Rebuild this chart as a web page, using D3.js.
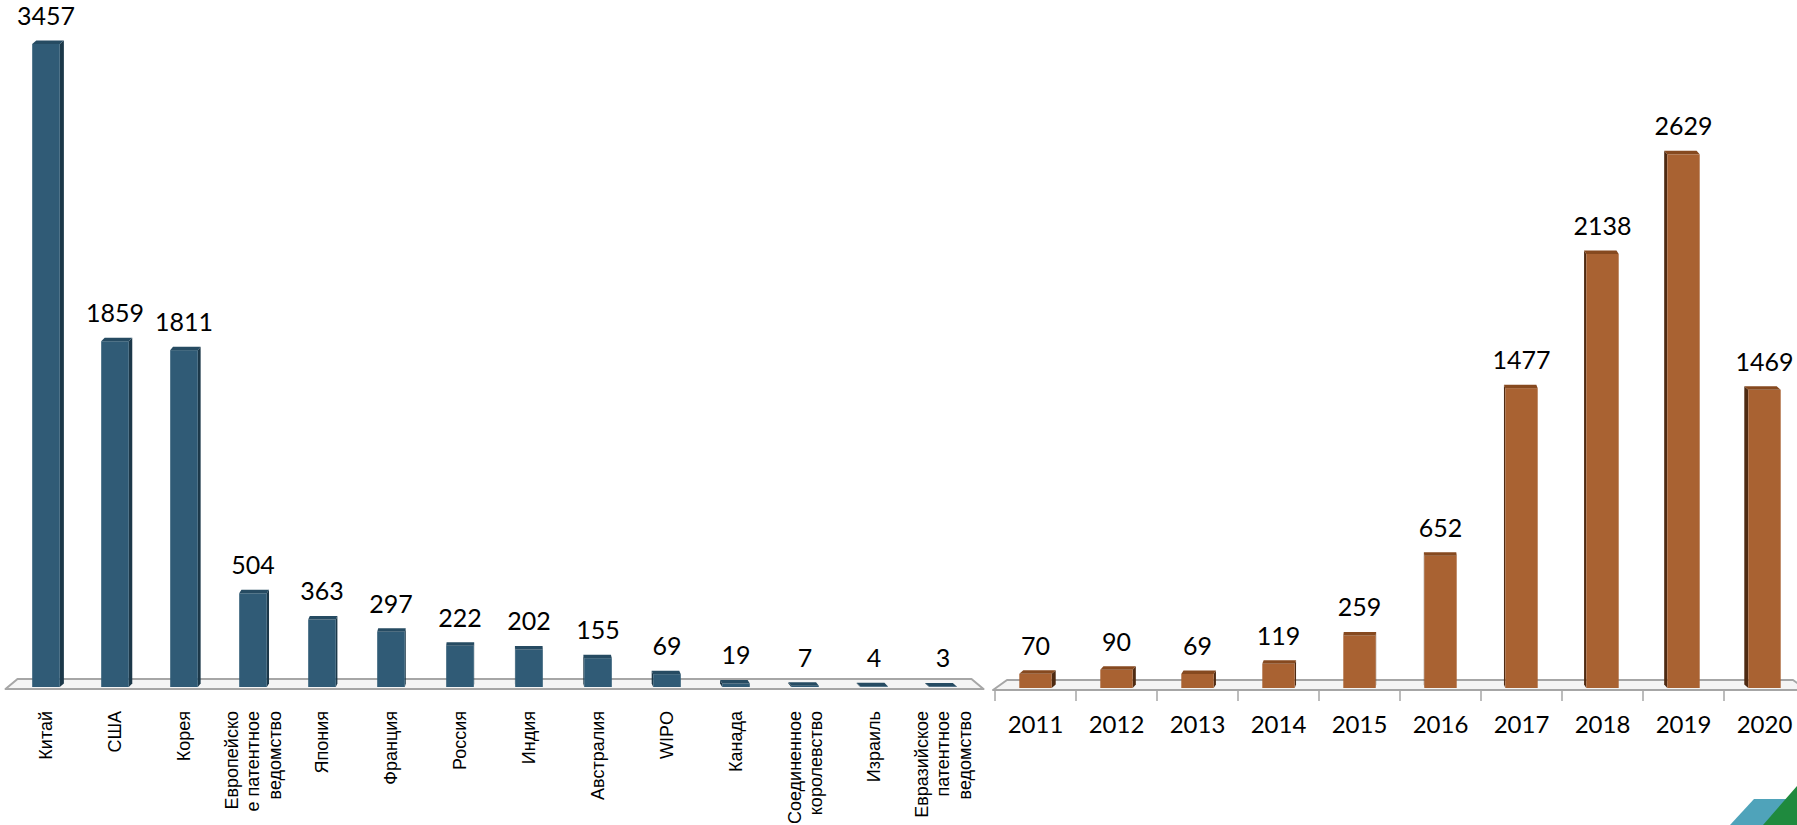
<!DOCTYPE html>
<html>
<head>
<meta charset="utf-8">
<script src="https://cdn.jsdelivr.net/npm/d3@7"></script>
<style>
  html, body { margin: 0; padding: 0; background: #ffffff; }
  svg { display: block; }
</style>
</head>
<body>
<svg id="chart" width="1797" height="825"></svg>
<script>
// ---- Data ----
const countries = [
  "Китай", "США", "Корея", "Европейско\nе патентное\nведомство", "Япония",
  "Франция", "Россия", "Индия", "Австралия", "WIPO", "Канада",
  "Соединенное\nкоролевство", "Израиль", "Евразийское\nпатентное\nведомство"
];
const countryValues = [3457, 1859, 1811, 504, 363, 297, 222, 202, 155, 69, 19, 7, 4, 3];

const years = ["2011", "2012", "2013", "2014", "2015", "2016", "2017", "2018", "2019", "2020"];
const yearValues = [70, 90, 69, 119, 259, 652, 1477, 2138, 2629, 1469];

// ---- Setup ----
const svg = d3.select("#chart");

function drawPanel(opts) {
  const { cats, vals, x, y, base, front, side, top, vp, k, floorBackInset, floorFrontOut, ticks, labelFn } = opts;
  const g = svg.append("g");
  const r = x.range();

  // floor (perspective platform)
  const backY = base - 8, frontY = base + 2;
  const floor = [
    [r[0] - floorFrontOut, frontY],
    [r[0] + floorBackInset, backY],
    [r[1] - floorBackInset, backY],
    [r[1] + floorFrontOut, frontY]
  ];
  g.append("polygon")
    .attr("points", floor.map(p => p.join(",")).join(" "))
    .attr("fill", "#f5f5f5")
    .attr("stroke", "#a6a6a6")
    .attr("stroke-width", 2)
    .attr("stroke-linejoin", "round");

  if (ticks) {
    const bounds = cats.map(c => x(c) - x.step() * x.paddingInner() / 2);
    bounds.push(x(cats[cats.length - 1]) + x.bandwidth() + x.step() * x.paddingInner() / 2);
    g.selectAll("line.tick").data(bounds).enter().append("line")
      .attr("x1", d => d).attr("x2", d => d)
      .attr("y1", frontY).attr("y2", frontY + 11)
      .attr("stroke", "#a6a6a6").attr("stroke-width", 1.5);
  }

  const bw = x.bandwidth();
  const dy = 3.5;
  const bars = g.selectAll("g.bar").data(cats.map((c, i) => ({ c, v: vals[i] }))).enter().append("g");

  bars.each(function (d) {
    const gg = d3.select(this);
    const x0 = x(d.c), x1 = x0 + bw;
    const yt = y(d.v);
    const cx = x0 + bw / 2;
    const dx = (vp - cx) * k;
    const sx = dx >= 0 ? x1 : x0;
    gg.append("polygon")
      .attr("points", [[sx, yt], [sx + dx, yt - dy], [sx + dx, base - dy], [sx, base]].map(p => p.join(",")).join(" "))
      .attr("fill", side);
    gg.append("rect")
      .attr("x", x0).attr("y", yt)
      .attr("width", bw).attr("height", Math.max(0, base - yt))
      .attr("fill", front);
    gg.append("polygon")
      .attr("points", [[x0, yt], [x1, yt], [x1 + dx, yt - dy], [x0 + dx, yt - dy]].map(p => p.join(",")).join(" "))
      .attr("fill", top);
    gg.append("text")
      .attr("x", cx).attr("y", yt - 19)
      .attr("text-anchor", "middle")
      .attr("font-family", "Lato, 'Open Sans', sans-serif")
      .attr("font-size", 25)
      .attr("fill", "#000")
      .text(d.v);
  });

  labelFn(g, x);
}

// ---- Left panel: by country ----
const xL = d3.scaleBand().domain(countries).range([11.5, 977.5]).paddingInner(0.6).paddingOuter(0.3);
const yL = d3.scaleLinear().domain([0, 3500]).range([687, 687 - 3500 * 0.186]);

drawPanel({
  cats: countries, vals: countryValues, x: xL, y: yL, base: 687,
  front: "#305b76", side: "#1c3849", top: "#264b62",
  vp: 500, k: 0.009, floorBackInset: 6, floorFrontOut: 6, ticks: false,
  labelFn: (g, x) => {
    countries.forEach(c => {
      const lines = c.split("\n");
      const cx = x(c) + x.bandwidth() / 2;
      lines.forEach((ln, j) => {
        const lx = cx + (j - (lines.length - 1) / 2) * 21.5;
        g.append("text")
          .attr("transform", `translate(${lx},711) rotate(-90)`)
          .attr("text-anchor", "end")
          .attr("dy", "0.35em")
          .attr("font-family", "'Liberation Sans', Arial, sans-serif")
          .attr("font-size", 18)
          .attr("fill", "#000")
          .text(ln);
      });
    });
  }
});

// ---- Right panel: by year ----
const xR = d3.scaleBand().domain(years).range([995, 1805]).paddingInner(0.6).paddingOuter(0.3);
const yR = d3.scaleLinear().domain([0, 3000]).range([688, 688 - 3000 * 0.203]);

drawPanel({
  cats: years, vals: yearValues, x: xR, y: yR, base: 688,
  front: "#a96232", side: "#4e2a12", top: "#86491f",
  vp: 1400, k: 0.011, floorBackInset: 12, floorFrontOut: 2, ticks: true,
  labelFn: (g, x) => {
    g.selectAll("text.year").data(years).enter().append("text")
      .attr("x", d => x(d) + x.bandwidth() / 2)
      .attr("y", 733)
      .attr("text-anchor", "middle")
      .attr("font-family", "Lato, 'Open Sans', sans-serif")
      .attr("font-size", 24)
      .attr("fill", "#000")
      .text(d => d);
  }
});

// ---- Decorative corner logo ----
svg.append("polygon").attr("points", "1730,825 1754,799 1797,799 1797,825").attr("fill", "#4fa3ba");
svg.append("polygon").attr("points", "1763,825 1797,786 1797,825").attr("fill", "#1f8a3e");
</script>
</body>
</html>
